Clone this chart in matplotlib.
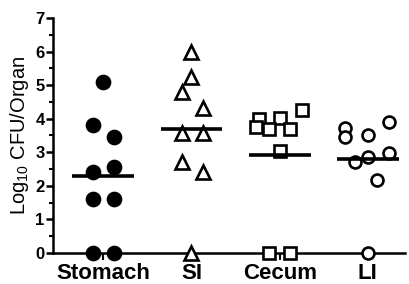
import matplotlib
matplotlib.use("Agg")
import matplotlib.pyplot as plt
from matplotlib.ticker import MultipleLocator

plt.rcParams["font.family"] = ["Liberation Sans", "DejaVu Sans"]

categories = ["Stomach", "SI", "Cecum", "LI"]

stomach_vals = [5.10, 3.81, 3.46, 2.57, 2.42, 1.60, 1.60, 0.0, 0.0]
stomach_jitter = [0.0, -0.12, 0.12, 0.12, -0.12, -0.12, 0.12, -0.12, 0.12]
stomach_median = 2.30

si_vals = [5.99, 5.25, 4.80, 4.31, 3.56, 3.56, 2.72, 2.42, 0.0]
si_jitter = [0.0, 0.0, -0.11, 0.13, -0.11, 0.13, -0.11, 0.13, 0.0]
si_median = 3.68

cecum_vals = [4.26, 4.01, 3.99, 3.74, 3.69, 3.69, 3.05, 0.0, 0.0]
cecum_jitter = [0.25, 0.0, -0.23, -0.27, -0.12, 0.12, 0.0, -0.12, 0.12]
cecum_median = 2.93

li_vals = [3.91, 3.71, 3.51, 3.46, 2.97, 2.85, 2.72, 2.17, 0.0]
li_jitter = [0.24, -0.26, 0.0, -0.26, 0.24, 0.0, -0.15, 0.1, 0.0]
li_median = 2.79

groups = [
    (stomach_vals, stomach_jitter, stomach_median, "o", "black", 9.4),
    (si_vals, si_jitter, si_median, "^", "white", 9.6),
    (cecum_vals, cecum_jitter, cecum_median, "s", "white", 8.6),
    (li_vals, li_jitter, li_median, "o", "white", 8.6),
]

fig = plt.figure(figsize=(4.09, 2.84), dpi=100)
ax = fig.add_axes([0.1296, 0.1092, 0.8604, 0.8274])

for i, (vals, jit, med, mk, face, ms) in enumerate(groups):
    pos = i + 1
    xs = [pos + j for j in jit]
    ax.plot(xs, vals, linestyle="none", marker=mk, markersize=ms,
            markerfacecolor=face, markeredgecolor="black", markeredgewidth=1.9,
            clip_on=False, zorder=3)
    ax.plot([pos - 0.35, pos + 0.35], [med, med], color="black",
            linewidth=2.6, solid_capstyle="butt", zorder=4)

ax.set_xlim(0.43, 4.42)
ax.set_ylim(0, 7)
ax.set_xticks(range(1, len(categories) + 1))
ax.set_xticklabels(categories, fontsize=16, fontweight="bold")
ax.yaxis.set_major_locator(MultipleLocator(1))
ax.yaxis.set_minor_locator(MultipleLocator(0.5))
for lab in ax.get_yticklabels():
    lab.set_fontweight("bold")
ax.tick_params(axis="y", which="major", labelsize=12, length=5, width=1.8, pad=1)
ax.tick_params(axis="y", which="minor", length=3, width=1.5)
ax.tick_params(axis="x", length=5, width=1.5, pad=2)
ax.set_ylabel(r"Log$_{\mathregular{10}}$ CFU/Organ", fontsize=14.5, labelpad=3)

ax.spines["top"].set_visible(False)
ax.spines["right"].set_visible(False)
ax.spines["left"].set_linewidth(1.8)
ax.spines["bottom"].set_linewidth(1.8)

fig.savefig("out.png", dpi=100)
